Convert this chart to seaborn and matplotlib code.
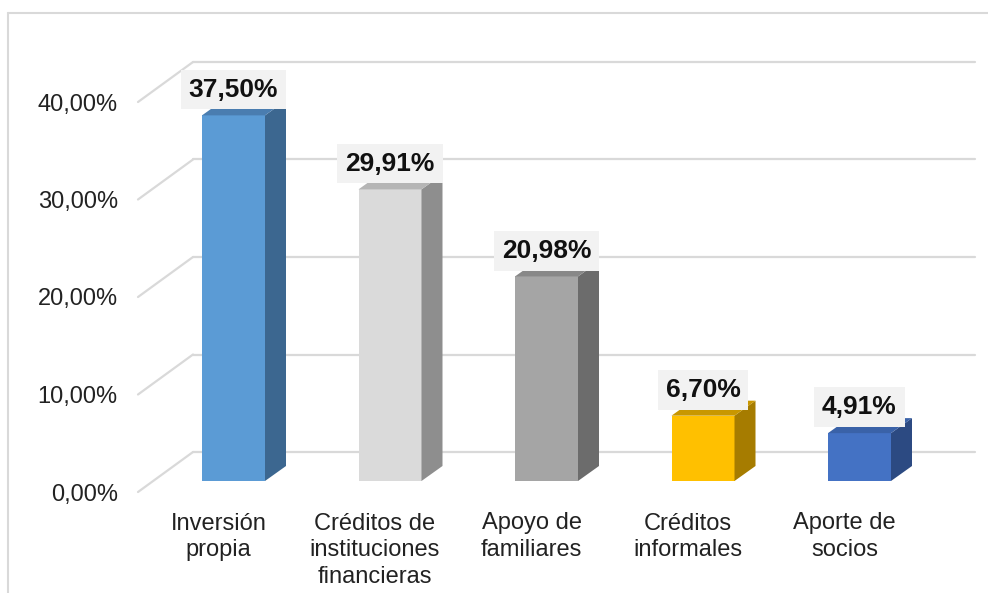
import numpy as np
import pandas as pd
import seaborn as sns
import matplotlib.pyplot as plt
from matplotlib.patches import Polygon
from matplotlib.lines import Line2D

# data
categorias = ['Inversión\npropia', 'Créditos de\ninstituciones\nfinancieras',
              'Apoyo de\nfamiliares', 'Créditos\ninformales', 'Aporte de\nsocios']
porcentajes = [37.50, 29.91, 20.98, 6.70, 4.91]
etiquetas = ['37,50%', '29,91%', '20,98%', '6,70%', '4,91%']
ticks_y = [0, 10, 20, 30, 40]
ticks_y_txt = ['0,00%', '10,00%', '20,00%', '30,00%', '40,00%']

# colours (front, top, side)
c_frente = ['#5B9BD5', '#DADADA', '#A5A5A5', '#FFC000', '#4472C4']
c_arriba = ['#4A7DB0', '#B5B5B5', '#888888', '#C99700', '#3A62A8']
c_lado = ['#3C6790', '#8E8E8E', '#6C6C6C', '#A67C00', '#2C4A82']

sns.set_style('white')
plt.rcParams['font.family'] = ['Liberation Sans', 'DejaVu Sans']

W, H = 988, 593
fig = plt.figure(figsize=(W / 100, H / 100), dpi=100)
# axes placed in pixels
ax = fig.add_axes([124 / W, (H - 500) / H, (975 - 124) / W, 450 / H])

px_x = 156.5   # px per category
px_y = 9.75    # px per percent point

df = pd.DataFrame({'cat': categorias, 'val': porcentajes})
ancho = 63 / px_x
sns.barplot(data=df, x='cat', y='val', hue='cat', palette=c_frente, width=ancho,
            saturation=1, legend=False, ax=ax, zorder=3, linewidth=0)

ax.set_xlim((124 - 233.5) / px_x, (975 - 233.5) / px_x)
ax.set_ylim((481 - 500) / px_y, (481 - 50) / px_y)

# pseudo 3D offsets
ddx, ddy = 21 / px_x, 15 / px_y          # bar depth
wdy = 29 / px_y                          # back wall above bar front
fdx, fdy = -15 / px_x, -11 / px_y        # floor front vs bar front
x_pared = (193 - 233.5) / px_x           # left edge of back wall
x_frente = (138 - 233.5) / px_x          # left edge of floor front
gris = '#D9D9D9'

for t in ticks_y:
    ax.add_line(Line2D([x_pared, ax.get_xlim()[1]], [t + wdy, t + wdy],
                       color=gris, lw=1.6, zorder=1, clip_on=False))
    ax.add_line(Line2D([x_frente, x_pared], [t + fdy, t + wdy],
                       color=gris, lw=1.6, zorder=1, clip_on=False))

for i, v in enumerate(porcentajes):
    x0, x1 = i - ancho / 2, i + ancho / 2
    ax.add_patch(Polygon([(x1, 0), (x1 + ddx, ddy), (x1 + ddx, v + ddy), (x1, v)],
                         closed=True, fc=c_lado[i], ec='none', zorder=3))
    ax.add_patch(Polygon([(x0, v), (x1, v), (x1 + ddx, v + ddy), (x0 + ddx, v + ddy)],
                         closed=True, fc=c_arriba[i], ec='none', zorder=3))
    ax.text(i, v + 2.65, etiquetas[i], ha='center', va='center', fontsize=19,
            fontweight='bold', color='#111111', zorder=5,
            bbox=dict(boxstyle='square,pad=0.3', fc='#F2F2F2', ec='none'))

ax.set_yticks([t + fdy for t in ticks_y])
ax.set_yticklabels(ticks_y_txt, fontsize=17, color='#222222')
ax.set_xticks([i + fdx for i in range(len(categorias))])
ax.set_xticklabels(categorias, fontsize=17, color='#222222', linespacing=1.27, va='top')
ax.tick_params(axis='y', length=0, pad=4.5)
ax.tick_params(axis='x', length=0, pad=9)
ax.set_xlabel('')
ax.set_ylabel('')
for s in ax.spines.values():
    s.set_visible(False)

# chart border (left and top)
fig.add_artist(Line2D([8 / W, 8 / W], [0, (H - 13) / H], color=gris, lw=1.5))
fig.add_artist(Line2D([8 / W, 1], [(H - 13) / H, (H - 13) / H], color=gris, lw=1.5))

fig.savefig('out.png', dpi=100)
